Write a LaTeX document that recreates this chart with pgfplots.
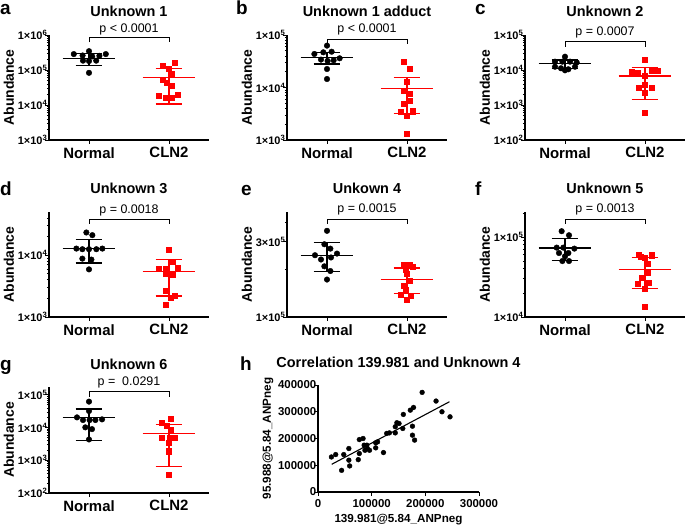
\documentclass[border=0pt]{standalone}
\usepackage{fontspec}
\setmainfont{Liberation Sans}
\usepackage{pgfplots}
\pgfplotsset{compat=1.18}
\definecolor{gpred}{RGB}{255,0,0}
\newcommand{\ex}[1]{1×10\textsuperscript{#1}}
\newcommand{\msdN}[3]{%
 \addplot[black, line width=1.2bp, forget plot] coordinates {(-0.33,#1) (0.33,#1)};
 \addplot[black, line width=1.2bp, forget plot] coordinates {(-0.167,#2) (0.167,#2)};
 \addplot[black, line width=1.2bp, forget plot] coordinates {(-0.167,#3) (0.167,#3)};
 \addplot[black, line width=1.2bp, forget plot] coordinates {(0,#3) (0,#2)};
}
\newcommand{\msdC}[3]{%
 \addplot[gpred, line width=1.2bp, forget plot] coordinates {(0.67,#1) (1.33,#1)};
 \addplot[gpred, line width=1.2bp, forget plot] coordinates {(0.833,#2) (1.167,#2)};
 \addplot[gpred, line width=1.2bp, forget plot] coordinates {(0.833,#3) (1.167,#3)};
 \addplot[gpred, line width=1.2bp, forget plot] coordinates {(1,#3) (1,#2)};
}
\newcommand{\pbr}[4]{%
 \draw[line width=1bp] (rel axis cs:0.25,#2) -- (rel axis cs:0.25,#1) -- (rel axis cs:0.75,#1) -- (rel axis cs:0.75,#2);
 \node[font=\fontsize{12.5}{14}\selectfont, inner sep=0pt] at (rel axis cs:0.5,#3) {#4};
}
\pgfplotsset{
 myax/.style={
  scale only axis, width=160bp, height=105bp,
  xmin=-0.5, xmax=1.5, clip=false,
  axis x line*=bottom, axis y line*=left,
  axis line style={-, line width=1.3bp},
  tick align=outside, major tick length=4bp, minor tick length=2.2bp,
  every tick/.append style={black, line width=0.9bp},
  every minor tick/.append style={black, line width=0.7bp},
  xtick={0,1}, xticklabels={Normal,CLN2},
  xticklabel style={font=\fontsize{15}{16}\selectfont\bfseries},
  yticklabel style={font=\fontsize{11}{12}\selectfont\bfseries, inner sep=0.5bp, xshift=3bp},
  ylabel={Abundance},
  every axis y label/.style={at={(rel axis cs:-0.25,0.5)}, rotate=90, anchor=center, font=\fontsize{14}{16}\selectfont\bfseries},
  every axis title/.style={at={(rel axis cs:0.5,1.222)}, anchor=center, font=\fontsize{14.5}{16}\selectfont\bfseries},
  anchor=south west,
 },
 nmark/.style={only marks, mark=*, mark size=2.8bp, black, forget plot},
 cmark/.style={only marks, mark=square*, mark size=2.6bp, gpred, forget plot},
}
\begin{document}
\begin{tikzpicture}
\useasboundingbox (0,0) rectangle (685bp,-525bp);
\begin{scope}[every node/.style={font=\fontsize{19}{20}\selectfont\bfseries, anchor=base west, inner sep=0pt}]
\node at (0bp,-14bp) {a};
\node at (236bp,-14bp) {b};
\node at (475bp,-14bp) {c};
\node at (0bp,-195bp) {d};
\node at (241bp,-195bp) {e};
\node at (475bp,-195bp) {f};
\node at (0bp,-370bp) {g};
\node at (240bp,-370bp) {h};
\end{scope}

% ---------- a ----------
\begin{semilogyaxis}[myax, at={(49bp,-140bp)}, title={Unknown 1},
 ymin=1e3, ymax=1e6, ytick={1e3,1e4,1e5,1e6}, yticklabels={\ex{3},\ex{4},\ex{5},\ex{6}},
 minor ytick={2e3,3e3,4e3,5e3,6e3,7e3,8e3,9e3,2e4,3e4,4e4,5e4,6e4,7e4,8e4,9e4,2e5,3e5,4e5,5e5,6e5,7e5,8e5,9e5}]
\addplot[nmark] coordinates {(-0.19,2.85e5) (-0.08,2.6e5) (0,3.45e5) (0.13,2.55e5) (0.21,2.85e5) (-0.075,1.85e5) (0,1.8e5) (0.09,1.85e5) (0.04,2.45e5) (0,8.3e4)};
\addplot[cmark] coordinates {(0.917,1.33e5) (1.07,1.62e5) (1,1.07e5) (1.03,8.0e4) (0.917,5.4e4) (0.967,4.3e4) (1.03,3.5e4) (0.875,1.85e4) (1.11,1.93e4) (0.96,1.6e4) (1.03,1.65e4)};
\msdN{2.15e5}{3.0e5}{1.35e5}
\msdC{6.2e4}{1.12e5}{1.07e4}
\pbr{0.974}{0.930}{1.054}{p < 0.0001}
\end{semilogyaxis}

% ---------- b ----------
\begin{semilogyaxis}[myax, at={(287bp,-140bp)}, title={Unknown 1 adduct},
 ymin=1e3, ymax=1e5, ytick={1e3,1e4,1e5}, yticklabels={\ex{3},\ex{4},\ex{5}},
 minor ytick={2e3,3e3,4e3,5e3,6e3,7e3,8e3,9e3,2e4,3e4,4e4,5e4,6e4,7e4,8e4,9e4}]
\addplot[nmark] coordinates {(0,6.27e4) (-0.158,4.35e4) (-0.046,4.68e4) (0.058,4.8e4) (0.158,3.6e4) (-0.075,3.4e4) (0.008,3.2e4) (0.083,3.3e4) (0,2.25e4) (0,1.45e4)};
\addplot[cmark] coordinates {(0.958,3.06e4) (1.033,2.32e4) (1,1.29e4) (0.958,8.7e3) (1.033,7.7e3) (1.033,5.6e3) (0.958,5.0e3) (0.925,3.47e3) (1.07,3.55e3) (1,2.86e3) (1,1.3e3)};
\msdN{3.76e4}{4.7e4}{2.8e4}
\msdC{9.5e3}{1.56e4}{3.22e3}
\pbr{0.959}{0.916}{1.054}{p < 0.0001}
\end{semilogyaxis}

% ---------- c ----------
\begin{semilogyaxis}[myax, at={(525bp,-140bp)}, title={Unknown 2},
 ymin=1e2, ymax=1e5, ytick={1e2,1e3,1e4,1e5}, yticklabels={\ex{2},\ex{3},\ex{4},\ex{5}},
 minor ytick={2e2,3e2,4e2,5e2,6e2,7e2,8e2,9e2,2e3,3e3,4e3,5e3,6e3,7e3,8e3,9e3,2e4,3e4,4e4,5e4,6e4,7e4,8e4,9e4}]
\addplot[nmark] coordinates {(0,2.4e4) (-0.125,1.73e4) (-0.033,1.73e4) (0.063,1.73e4) (0.146,1.65e4) (-0.125,1.24e4) (-0.05,1.12e4) (0.042,1.05e4) (0,9.8e3) (0.125,1.24e4)};
\addplot[cmark] coordinates {(1,1.93e4) (0.833,8.97e3) (0.908,8.4e3) (1.083,9.4e3) (1.158,9.4e3) (1,6.7e3) (1,3.73e3) (0.917,3.2e3) (1.083,3.2e3) (1,2.25e3) (1,617)};
\msdN{1.55e4}{1.93e4}{1.12e4}
\msdC{6.75e3}{1.17e4}{1.45e3}
\pbr{0.936}{0.889}{1.026}{p = 0.0007}
\end{semilogyaxis}

% ---------- d ----------
\begin{semilogyaxis}[myax, at={(49bp,-317bp)}, title={Unknown 3},
 every axis title/.append style={at={(rel axis cs:0.5,1.226)}},
 ymin=1e3, ymax=5e4, ytick={1e3,1e4}, yticklabels={\ex{3},\ex{4}},
 minor ytick={2e3,3e3,4e3,5e3,6e3,7e3,8e3,9e3,2e4,3e4,4e4}]
\addplot[nmark] coordinates {(-0.033,2.33e4) (0.042,2.11e4) (-0.158,1.28e4) (-0.083,1.25e4) (0,1.25e4) (0.092,1.25e4) (0.167,1.28e4) (-0.083,8.8e3) (0.03,8.5e3) (0,5.9e3)};
\addplot[cmark] coordinates {(1,1.24e4) (0.875,6.0e3) (0.958,5.95e3) (1.042,7.9e3) (1.113,6.2e3) (0.958,5.05e3) (1.042,4.9e3) (0.958,2.7e3) (1.07,2.19e3) (1.017,2.06e3) (0.958,1.6e3)};
\msdN{1.27e4}{1.82e4}{7.5e3}
\msdC{5.37e3}{8.6e3}{2.19e3}
\pbr{0.933}{0.886}{1.019}{p = 0.0018}
\end{semilogyaxis}

% ---------- e ----------
\begin{semilogyaxis}[myax, at={(287bp,-317bp)}, title={Unkown 4},
 every axis title/.append style={at={(rel axis cs:0.5,1.226)}},
 ymin=1e5, ymax=4.65e5, ytick={1e5,3e5}, yticklabels={\ex{5},3×10\textsuperscript{5}},
 minor ytick={2e5,4e5}]
\addplot[nmark] coordinates {(0,3.53e5) (-0.033,2.9e5) (0.042,2.72e5) (0.125,2.53e5) (-0.15,2.47e5) (0.05,2.39e5) (-0.075,2.32e5) (-0.033,2.1e5) (0.042,1.96e5) (0,1.73e5)};
\addplot[cmark] coordinates {(0.958,2.15e5) (1.03,2.15e5) (1.07,2.08e5) (0.987,2.0e5) (1,1.89e5) (1.03,1.71e5) (0.958,1.59e5) (0.987,1.49e5) (0.917,1.39e5) (1.042,1.37e5) (1,1.29e5)};
\msdN{2.46e5}{2.97e5}{1.95e5}
\msdC{1.73e5}{2.05e5}{1.41e5}
\pbr{0.933}{0.886}{1.029}{p = 0.0015}
\end{semilogyaxis}

% ---------- f ----------
\begin{semilogyaxis}[myax, at={(525bp,-317bp)}, title={Unknown 5},
 every axis title/.append style={at={(rel axis cs:0.5,1.226)}},
 ymin=1e4, ymax=2.05e5, ytick={1e4,1e5}, yticklabels={\ex{4},\ex{5}},
 minor ytick={2e4,3e4,4e4,5e4,6e4,7e4,8e4,9e4,2e5}]
\addplot[nmark] coordinates {(-0.042,1.18e5) (0.05,1.05e5) (-0.104,7.36e4) (-0.021,7.36e4) (0.117,7.15e4) (-0.075,6.3e4) (0.042,6.3e4) (0,5.73e4) (-0.033,5.0e4) (0.05,5.0e4)};
\addplot[cmark] coordinates {(0.917,6.07e4) (0.992,5.5e4) (1.083,5.9e4) (0.942,5.73e4) (1.033,4.64e4) (1.033,3.55e4) (0.958,3.1e4) (0.908,2.61e4) (1.042,2.66e4) (1,2.26e4) (1,1.36e4)};
\msdN{7.29e4}{9.5e4}{5.1e4}
\msdC{3.9e4}{5.6e4}{2.26e4}
\pbr{0.933}{0.886}{1.029}{p = 0.0013}
\end{semilogyaxis}

% ---------- g ----------
\begin{semilogyaxis}[myax, at={(49bp,-493bp)}, height=106bp, title={Unknown 6},
 every axis title/.append style={at={(rel axis cs:0.5,1.217)}},
 ymin=1e2, ymax=1.75e5, ytick={1e2,1e3,1e4,1e5}, yticklabels={\ex{2},\ex{3},\ex{4},\ex{5}},
 minor ytick={2e2,3e2,4e2,5e2,6e2,7e2,8e2,9e2,2e3,3e3,4e3,5e3,6e3,7e3,8e3,9e3,2e4,3e4,4e4,5e4,6e4,7e4,8e4,9e4}]
\addplot[nmark] coordinates {(0,6.24e4) (0,3.23e4) (-0.15,2.06e4) (-0.075,1.71e4) (0.008,1.71e4) (0.08,1.71e4) (0.163,1.79e4) (-0.046,1.02e4) (0.037,9.0e3) (0,4.35e3)};
\addplot[cmark] coordinates {(1.025,1.92e4) (0.912,1.41e4) (0.967,1.12e4) (1.025,8.4e3) (0.912,4.9e3) (1.008,4.9e3) (1.067,4.9e3) (1,3.43e3) (1,1.9e3) (1,366)};
\msdN{2.06e4}{3.72e4}{3.96e3}
\msdC{6.65e3}{1.26e4}{661}
\pbr{0.956}{0.908}{1.044}{p =\ \ 0.0291}
\end{semilogyaxis}

% ---------- h ----------
\begin{axis}[at={(318bp,-492bp)}, anchor=south west, scale only axis, width=161bp, height=107bp,
 xmin=0, xmax=300000, ymin=0, ymax=400000, clip=false,
 axis x line*=bottom, axis y line*=left, axis line style={-, line width=1.3bp},
 tick align=outside, major tick length=4bp,
 every tick/.append style={black, line width=0.9bp},
 scaled ticks=false,
 xtick={0,100000,200000,300000}, xticklabels={0,100000,200000,300000},
 ytick={0,100000,200000,300000,400000}, yticklabels={0,100000,200000,300000,400000},
 tick label style={font=\fontsize{11.5}{13}\selectfont\bfseries},
 yticklabel style={inner sep=0.5bp, xshift=3bp},
 title={Correlation 139.981 and Unknown 4},
 every axis title/.style={at={(rel axis cs:0.5,1.215)}, anchor=center, font=\fontsize{14.5}{16}\selectfont\bfseries},
 xlabel={139.981@5.84\_ANPneg}, ylabel={95.988@5.84\_ANPneg},
 every axis x label/.style={at={(rel axis cs:0.5,-0.262)}, anchor=center, font=\fontsize{11.7}{13}\selectfont\bfseries},
 every axis y label/.style={at={(rel axis cs:-0.31,0.5)}, rotate=90, anchor=center, font=\fontsize{11.7}{13}\selectfont\bfseries},
]
\addplot[only marks, mark=*, mark size=2.4bp, black] coordinates {
(25000,131000) (33000,140000) (44000,81000) (48000,140000) (57500,162500) (57500,119000) (59000,97500)
(75000,121000) (77000,144000) (77000,196000) (84000,200000) (86000,175000) (91000,175000) (87500,156000)
(92000,162500) (96000,156000) (107500,184000) (111000,187500) (107500,165000) (122000,147500) (128000,219000)
(133000,221000) (144000,221000) (144000,244000) (147000,259000) (151000,256000) (158000,237500) (159000,290000)
(172000,306000) (178000,316000) (176000,246000) (176000,212500) (180000,194000) (194000,372500) (220000,340000)
(231000,300000) (246000,281000)};
\addplot[black, line width=1.1bp] coordinates {(25500,103500) (245000,337500)};
\end{axis}
\end{tikzpicture}
\end{document}
